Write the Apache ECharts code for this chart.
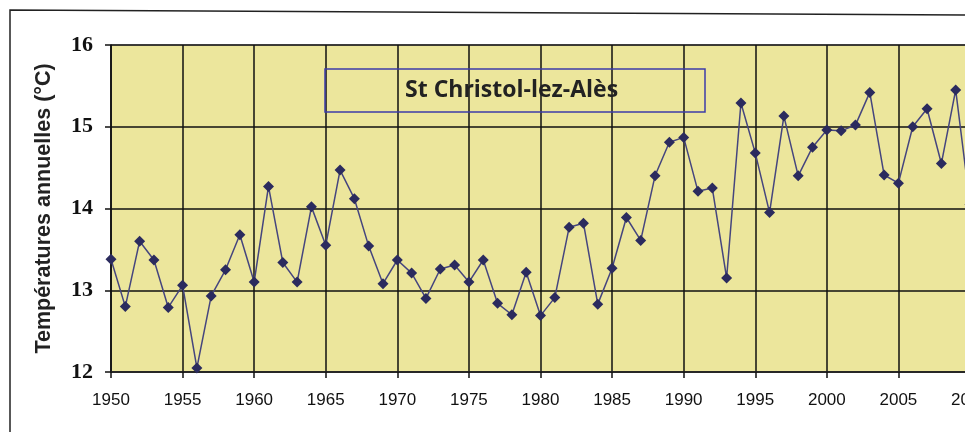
<!DOCTYPE html>
<html>
<head>
<meta charset="utf-8">
<script src="https://cdn.jsdelivr.net/npm/echarts@6/dist/echarts.min.js"></script>
<style>
  html, body { margin: 0; padding: 0; background: #fff; }
  #chart { width: 965px; height: 432px; }
</style>
</head>
<body>
<div id="chart"></div>
<script>
// années et températures moyennes annuelles
const years = [
  1950, 1951, 1952, 1953, 1954, 1955, 1956, 1957, 1958, 1959,
  1960, 1961, 1962, 1963, 1964, 1965, 1966, 1967, 1968, 1969,
  1970, 1971, 1972, 1973, 1974, 1975, 1976, 1977, 1978, 1979,
  1980, 1981, 1982, 1983, 1984, 1985, 1986, 1987, 1988, 1989,
  1990, 1991, 1992, 1993, 1994, 1995, 1996, 1997, 1998, 1999,
  2000, 2001, 2002, 2003, 2004, 2005, 2006, 2007, 2008, 2009,
  2010
];
const temps = [
  13.38, 12.80, 13.60, 13.37, 12.79, 13.06, 12.05, 12.93, 13.25, 13.68,
  13.10, 14.27, 13.34, 13.10, 14.02, 13.55, 14.47, 14.12, 13.54, 13.08,
  13.37, 13.21, 12.90, 13.26, 13.31, 13.10, 13.37, 12.84, 12.70, 13.22,
  12.69, 12.91, 13.77, 13.82, 12.83, 13.27, 13.89, 13.61, 14.40, 14.81,
  14.87, 14.21, 14.25, 13.15, 15.29, 14.68, 13.95, 15.13, 14.40, 14.75,
  14.96, 14.95, 15.02, 15.42, 14.41, 14.31, 15.00, 15.22, 14.55, 15.45,
  14.05
];
const yTicks = [12, 13, 14, 15, 16];

const chart = echarts.init(document.getElementById('chart'));

chart.setOption({
  animation: false,
  backgroundColor: '#ffffff',
  title: {
    text: 'St Christol-lez-Alès',
    left: 325,
    top: 69,
    padding: [10, 87, 10, 80],
    borderColor: '#3c3ca8',
    borderWidth: 1.5,
    textStyle: {
      fontFamily: 'Open Sans',
      fontWeight: 'bold',
      fontSize: 23,
      color: '#222'
    }
  },
  grid: {
    left: 111,
    right: -5,
    top: 45,
    bottom: 60,
    outerBoundsMode: 'none',
    containLabel: false,
    show: true,
    backgroundColor: '#ece69c',
    borderColor: '#888',
    borderWidth: 1
  },
  xAxis: {
    type: 'value',
    min: 1950,
    max: 2010,
    interval: 5,
    axisLine: { lineStyle: { color: '#222', width: 1.5 } },
    axisTick: { show: true, length: 6, lineStyle: { color: '#111', width: 1.5 } },
    axisLabel: {
      fontFamily: 'Liberation Sans',
      fontSize: 17,
      color: '#111',
      margin: 20,
      formatter: (v) => String(v)
    },
    splitLine: { show: true, lineStyle: { color: '#111', width: 1.5 } }
  },
  yAxis: {
    type: 'value',
    min: yTicks[0],
    max: yTicks[yTicks.length - 1],
    interval: 1,
    name: 'Températures annuelles (°C)',
    nameLocation: 'middle',
    nameGap: 56,
    nameTextStyle: {
      fontFamily: 'Liberation Sans',
      fontSize: 21.5,
      fontWeight: 'bold',
      color: '#222'
    },
    axisLine: { show: true, lineStyle: { color: '#111', width: 1.5 } },
    axisTick: { show: true, length: 6, lineStyle: { color: '#111', width: 1.5 } },
    axisLabel: {
      fontFamily: 'Liberation Serif',
      fontWeight: 'bold',
      fontSize: 22,
      color: '#111',
      margin: 18
    },
    splitLine: { show: true, lineStyle: { color: '#111', width: 1.5 } }
  },
  series: [
    {
      type: 'line',
      data: years.map((y, i) => [y, temps[i]]),
      symbol: 'diamond',
      symbolSize: 11,
      clip: false,
      lineStyle: { color: '#45457e', width: 1.5 },
      itemStyle: { color: '#2b2b5e' }
    }
  ],
  graphic: [
    {
      type: 'polyline',
      shape: { points: [[10, 432], [10, 10], [965, 15]] },
      style: { stroke: '#222', lineWidth: 1.5, fill: null }
    }
  ]
});
</script>
</body>
</html>
